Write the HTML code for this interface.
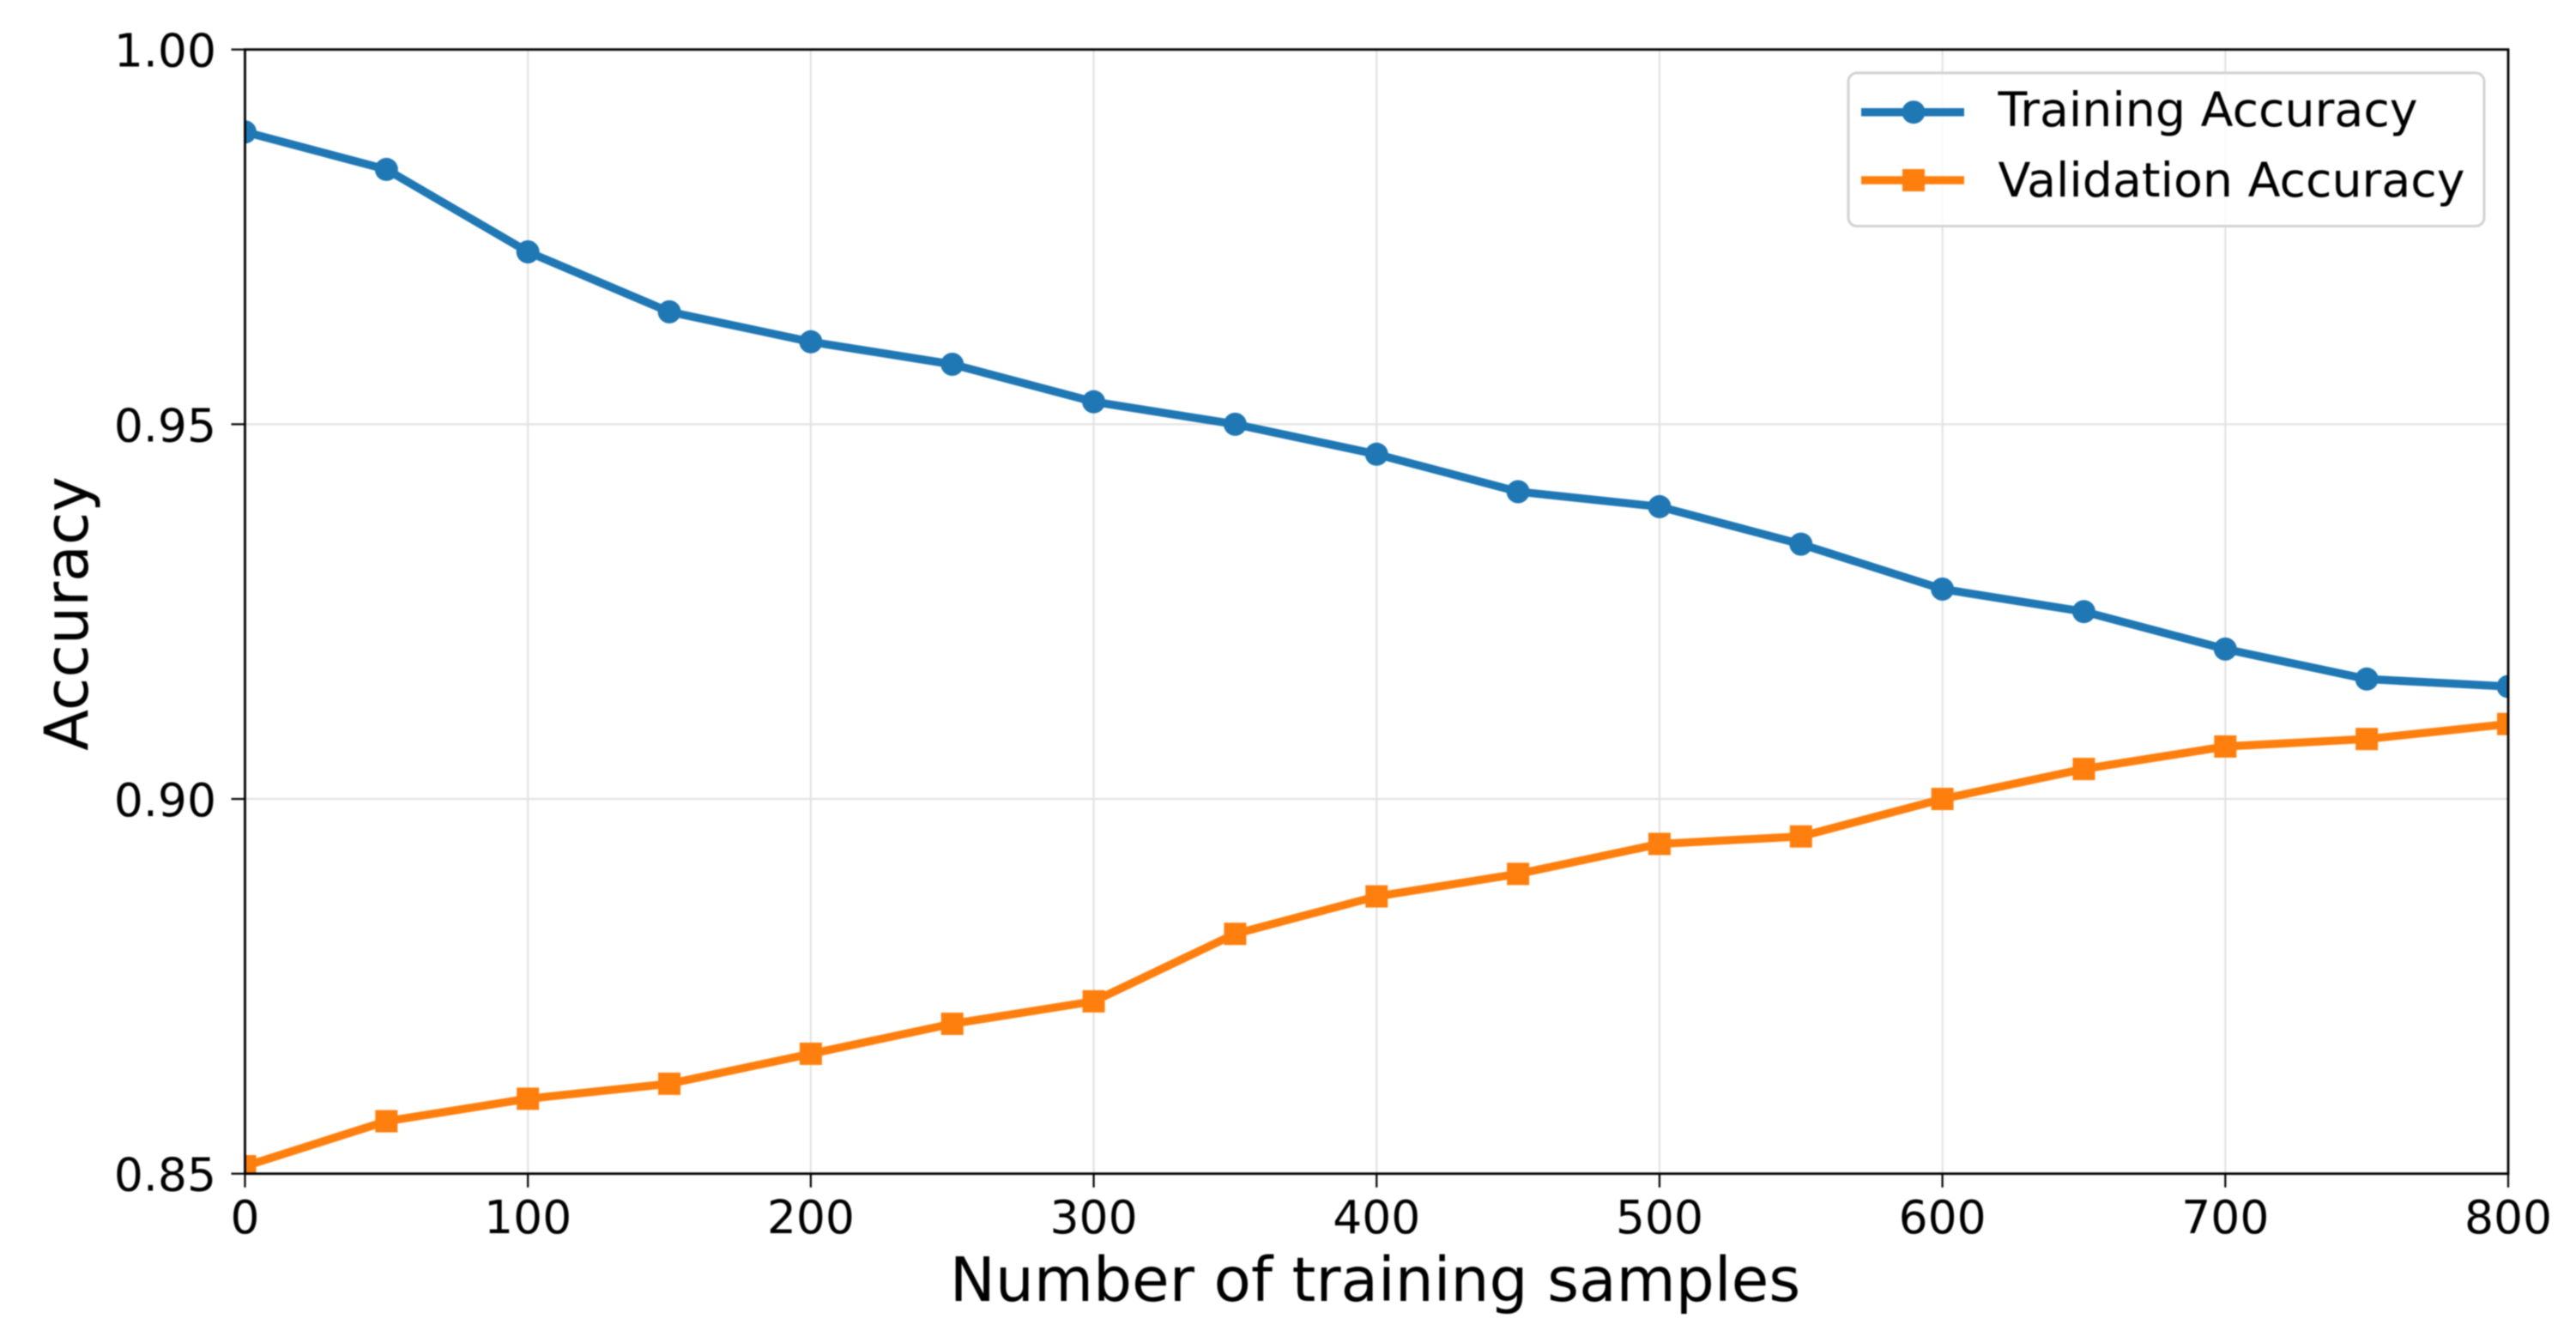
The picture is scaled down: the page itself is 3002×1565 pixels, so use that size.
<!DOCTYPE html>
<html lang="en">
<head>
<meta charset="utf-8">
<title>Training and Validation Accuracy</title>
<style>
  html, body { margin: 0; padding: 0; width: 3002px; height: 1565px; background: #fff; overflow: hidden; }
  svg { display: block; filter: blur(0.7px); }
  text { font-family: "DejaVu Sans", "Liberation Sans", sans-serif; fill: #000; }
</style>
</head>
<body>
<svg id="chart" xmlns="http://www.w3.org/2000/svg" width="3002" height="1565" viewBox="0 0 3002 1565">
  <defs>
    <clipPath id="plot-clip"><rect x="285.5" y="57.7" width="2637.5" height="1310"></rect></clipPath>
  </defs>
  <rect x="0" y="0" width="3002" height="1565" fill="#ffffff"></rect>
  <g id="grid"></g>
  <g id="series" clip-path="url(#plot-clip)"></g>
  <g id="axes"></g>
  <rect x="285.5" y="57.7" width="2637.5" height="1310" fill="none" stroke="#000" stroke-width="2.8"></rect>
  <text x="1602.5" y="1516" font-size="71" text-anchor="middle">Number of training samples</text>
  <text x="102" y="715" font-size="70" text-anchor="middle" transform="rotate(-90 102 715)">Accuracy</text>
  <g>
    <rect x="2154" y="85" width="741" height="178.5" rx="10" ry="10" fill="#ffffff" fill-opacity="0.8" stroke="#d2d2d2" stroke-width="3"></rect>
    <g>
      <line x1="2169" y1="130.7" x2="2289" y2="130.7" stroke="#1f77b4" stroke-width="9.5"></line>
      <circle cx="2230" cy="130.7" r="13.5" fill="#1f77b4"></circle>
      <text x="2328.5" y="147" font-size="55.4">Training Accuracy</text>
    </g>
    <g>
      <line x1="2169" y1="210" x2="2289" y2="210" stroke="#ff7f0e" stroke-width="9.5"></line>
      <rect x="2217" y="197" width="26" height="26" fill="#ff7f0e"></rect>
      <text x="2328.5" y="229" font-size="55.4">Validation Accuracy</text>
    </g>
  </g>
</svg>
<script>
const sampleCounts = [0, 50, 100, 150, 200, 250, 300, 350, 400, 450, 500, 550, 600, 650, 700, 750, 800];
const trainingAccuracy = [0.989, 0.984, 0.973, 0.965, 0.961, 0.958, 0.953, 0.950, 0.946, 0.941, 0.939, 0.934, 0.928, 0.925, 0.920, 0.916, 0.915];
const validationAccuracy = [0.851, 0.857, 0.860, 0.862, 0.866, 0.870, 0.873, 0.882, 0.887, 0.890, 0.894, 0.895, 0.900, 0.904, 0.907, 0.908, 0.910];
const xTicks = [0, 100, 200, 300, 400, 500, 600, 700, 800];
const yTicks = [0.85, 0.90, 0.95, 1.00];

const NS = 'http://www.w3.org/2000/svg';
const plotLeft = 285.5, plotRight = 2923, plotTop = 57.7, plotBottom = 1367.7;
const xDomain = [0, 800], yDomain = [0.85, 1.00];
const xScale = v => plotLeft + (v - xDomain[0]) / (xDomain[1] - xDomain[0]) * (plotRight - plotLeft);
const yScale = v => plotBottom - (v - yDomain[0]) / (yDomain[1] - yDomain[0]) * (plotBottom - plotTop);

function make(tag, attrs, parent) {
  const el = document.createElementNS(NS, tag);
  for (const k in attrs) el.setAttribute(k, attrs[k]);
  parent.appendChild(el);
  return el;
}

const gridLayer = document.getElementById('grid');
const axesLayer = document.getElementById('axes');
const seriesLayer = document.getElementById('series');

xTicks.forEach(t => {
  const x = xScale(t);
  const g = make('line', { x1: x, x2: x, y1: plotTop, y2: plotBottom, stroke: '#e3e3e3', 'stroke-width': 2.2 }, gridLayer);
  
  
  const tick = make('line', { x1: x, x2: x, y1: plotBottom, y2: plotBottom + 16, stroke: '#000', 'stroke-width': 2.2 }, axesLayer);
  
  
  const label = make('text', { x: x, y: 1437, 'font-size': 53.5, 'text-anchor': 'middle' }, axesLayer);
  
  
  label.textContent = String(t);
});

yTicks.forEach(t => {
  const y = yScale(t);
  const g = make('line', { x1: plotLeft, x2: plotRight, y1: y, y2: y, stroke: '#e3e3e3', 'stroke-width': 2.2 }, gridLayer);
  
  
  const tick = make('line', { x1: plotLeft - 16, x2: plotLeft, y1: y, y2: y, stroke: '#000', 'stroke-width': 2.2 }, axesLayer);
  
  
  const label = make('text', { x: 252, y: y + 20, 'font-size': 53.5, 'text-anchor': 'end' }, axesLayer);
  
  
  label.textContent = t.toFixed(2);
});

function linePoints(values) {
  return values.map((v, i) => xScale(sampleCounts[i]) + ',' + yScale(v)).join(' ');
}

const trainingLine = make('polyline', { points: linePoints(trainingAccuracy), fill: 'none', stroke: '#1f77b4', 'stroke-width': 9.5, 'stroke-linejoin': 'round' }, seriesLayer);


trainingAccuracy.forEach((v, i) => {
  const dot = make('circle', { cx: xScale(sampleCounts[i]), cy: yScale(v), r: 13.5, fill: '#1f77b4' }, seriesLayer);
  
  
});

const validationLine = make('polyline', { points: linePoints(validationAccuracy), fill: 'none', stroke: '#ff7f0e', 'stroke-width': 9.5, 'stroke-linejoin': 'round' }, seriesLayer);


validationAccuracy.forEach((v, i) => {
  const square = make('rect', { x: xScale(sampleCounts[i]) - 13, y: yScale(v) - 13, width: 26, height: 26, fill: '#ff7f0e' }, seriesLayer);
  
  
});
</script>
</body>
</html>
